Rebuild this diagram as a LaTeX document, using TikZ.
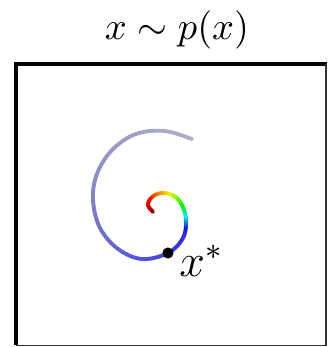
\documentclass[tikz,border=0pt]{standalone}
\usepackage{amsfonts, amssymb, amsmath}
\usepackage{tikz}

% colour along the spiral: grey-blue outside, rainbow inside
\newcommand{\setspiralcolor}[1]{%
  \ifdim #1pt<10.5pt
    \pgfmathsetmacro{\sps}{#1/10.5}%
    \pgfmathsetmacro{\spr}{0.68-0.53*\sps^1.5}%
    \pgfmathsetmacro{\spb}{0.78+0.17*\sps^3}%
    \definecolor{spiralcol}{rgb}{\spr,\spr,\spb}%
  \else
    \pgfmathsetmacro{\sph}{(#1<12) ? (0.667-(#1-10.5)*0.2223) : ((#1<13.5) ? (0.333-(#1-12)*0.111) : max(0,0.167-(#1-13.5)*0.0835))}%
    \pgfmathsetmacro{\spv}{(#1>16) ? (0.95-(#1-16)*0.4) : 0.95}%
    \definecolor{spiralcol}{hsb}{\sph,1,\spv}%
  \fi}

\tikzset{
    declare function={cr(\qa,\qb,\qc,\qd,\qt)=0.5*(2*\qb+(\qc-\qa)*\qt+(2*\qa-5*\qb+4*\qc-\qd)*\qt*\qt+(3*\qb-\qa-3*\qc+\qd)*\qt*\qt*\qt);}
}

\begin{document}
\begin{tikzpicture}[scale=1]
    \useasboundingbox (0, 0) rectangle (3.0, 3.175);

    % Frame
    \draw[line width=1.05pt] (0.146, 0.014) -- (0.146, 2.589) -- (2.99, 2.589);
    \draw[line width=0.4pt, black!80] (2.985, 2.589) -- (2.985, 0.014) -- (0.146, 0.014);

    % Title
    \node[anchor=base] (title) at (1.619, 2.809) {$x \sim p(x)$};

    % Spiral through these points, first and last repeated
    \def\spx{{1.757,1.757,1.510,1.244,1.025,0.887,0.851,0.915,1.080,1.299,1.537,1.674,1.702,1.665,1.592,1.482,1.391,1.354,1.400,1.400}}
    \def\spy{{1.903,1.903,1.976,1.949,1.802,1.583,1.345,1.089,0.897,0.805,0.860,0.997,1.162,1.299,1.382,1.409,1.372,1.299,1.235,1.235}}
    \foreach \i in {1,...,17} {
        \pgfmathtruncatemacro{\ia}{\i-1}
        \pgfmathtruncatemacro{\ib}{\i+1}
        \pgfmathtruncatemacro{\ic}{\i+2}
        \pgfmathsetmacro{\xa}{\spx[\ia]} \pgfmathsetmacro{\xb}{\spx[\i]}
        \pgfmathsetmacro{\xc}{\spx[\ib]} \pgfmathsetmacro{\xd}{\spx[\ic]}
        \pgfmathsetmacro{\ya}{\spy[\ia]} \pgfmathsetmacro{\yb}{\spy[\i]}
        \pgfmathsetmacro{\yc}{\spy[\ib]} \pgfmathsetmacro{\yd}{\spy[\ic]}
        \foreach \k in {0,...,9} {
            \pgfmathsetmacro{\ts}{\k/10}
            \pgfmathsetmacro{\te}{(\k+1)/10}
            \pgfmathsetmacro{\xs}{cr(\xa,\xb,\xc,\xd,\ts)}
            \pgfmathsetmacro{\ys}{cr(\ya,\yb,\yc,\yd,\ts)}
            \pgfmathsetmacro{\xe}{cr(\xa,\xb,\xc,\xd,\te)}
            \pgfmathsetmacro{\ye}{cr(\ya,\yb,\yc,\yd,\te)}
            \pgfmathsetmacro{\spu}{\i-1+(\k+0.5)/10}
            \setspiralcolor{\spu}
            \draw[spiralcol, line width=1pt, line cap=round] (\xs, \ys) -- (\xe, \ye);
        }
    }

    % Optimum
    \coordinate (xstar) at (1.537, 0.860);
    \fill (xstar) circle (1.45pt);
    \node[anchor=base west, inner sep=0pt, font=\large] (xlabel) at (1.635, 0.645) {$x^*$};
\end{tikzpicture}
\end{document}
